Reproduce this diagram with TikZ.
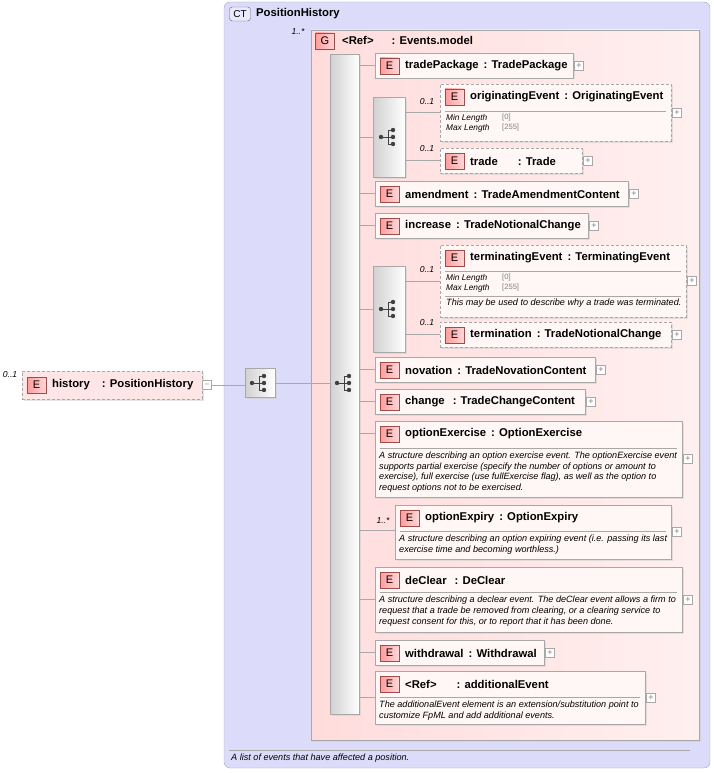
\documentclass[tikz,border=0pt]{standalone}
\usepackage{fontspec}
\setmainfont{Liberation Sans}
\usetikzlibrary{shadows}

\definecolor{ctfill}{HTML}{DCDCFA}
\definecolor{gfill}{HTML}{FFDCDC}
\definecolor{efill}{HTML}{FFF6F6}
\definecolor{badge}{HTML}{FF9C9C}
\definecolor{frame}{HTML}{A8A8A8}

\tikzset{
  ebox/.style={draw=frame,fill=efill,anchor=north west,inner sep=0pt,outer sep=0pt,
               drop shadow={shadow xshift=1.5pt,shadow yshift=-1.5pt,fill=black!20}},
  solid box/.style={solid},
  dashed box/.style={dash pattern=on 3pt off 2pt},
  ebadge/.style={draw=red!45!black!70,left color=badge,right color=badge!40,minimum width=19pt,
                 minimum height=16pt,inner sep=0pt,font=\fontsize{11}{12}\selectfont},
  etitle/.style={anchor=west,inner sep=0pt,font=\fontsize{11.3}{13}\selectfont\bfseries},
  edesc/.style={anchor=north west,inner sep=0pt,align=left,font=\fontsize{9.1}{10.6}\selectfont\itshape},
  facet/.style={anchor=north west,inner sep=0pt,align=left,font=\fontsize{8.3}{10}\selectfont\itshape},
  facet value/.style={facet,font=\fontsize{7.6}{10}\selectfont,text=gray},
  plusbox/.style={draw=frame,fill=white,minimum size=9pt,inner sep=0pt,
                  font=\fontsize{9}{9}\selectfont\color{gray}},
  card/.style={font=\fontsize{8.6}{9}\selectfont\itshape},
  conn/.style={draw=frame,thin},
  icon box/.style={draw=frame,anchor=north west,inner sep=0pt,left color=black!18,right color=white,
                   drop shadow={shadow xshift=1.5pt,shadow yshift=-1.5pt,fill=black!20}}
}

% element box: id, x, y, width, height, border style, title
\newcommand{\elem}[7]{%
  \node[ebox,#6,minimum width=#4pt,minimum height=#5pt] (#1) at (#2,#3) {};
  \node[ebadge] at (#2+14.5,#3+13) {E};
  \node[etitle] at (#2+30,#3+13) {#7};
  \node[plusbox] at (#2+#4+6,#3+#5/2) {+};
}
% separator line and text under a title
\newcommand{\note}[4]{%
  \draw[frame] (#1+5,#2) -- (#3-5,#2);
  \node[edesc] at (#1+4,#2+4) {#4};
}
% choice icon
\newcommand{\choiceicon}[2]{%
  \fill[black!75] (#1-7,#2) circle (2.2pt) (#1+5,#2-7) circle (2.2pt)
                  (#1+5,#2) circle (2.2pt) (#1+5,#2+7) circle (2.2pt);
  \draw[black!75,thick] (#1-7,#2) -- (#1,#2) (#1,#2-7) -- (#1,#2+7)
                  (#1,#2-7) -- (#1+5,#2-7) (#1,#2) -- (#1+5,#2) (#1,#2+7) -- (#1+5,#2+7);
}

\begin{document}
\begin{tikzpicture}[x=1pt,y=-1pt]
  \useasboundingbox (0,0) rectangle (714,773);

  % complex type
  \draw[frame,fill=ctfill,rounded corners=6pt] (224,2) rectangle (710,768);
  \node[draw=black!60,fill=ctfill!60,rounded corners=3pt,minimum width=21pt,minimum height=14pt,
        inner sep=0pt,font=\fontsize{10}{11}\selectfont] (ct) at (240,14) {CT};
  \node[etitle] at (256,14) {PositionHistory};
  \draw[frame] (229,750) -- (690,750);
  \node[edesc,anchor=west] at (231,758) {A list of events that have affected a position.};

  % group
  \draw[frame,left color=gfill,right color=gfill!45,
        drop shadow={shadow xshift=1.5pt,shadow yshift=-1.5pt,fill=black!20}] (311,30) rectangle (699,740);
  \node[ebadge] at (325,41) {G};
  \node[etitle] at (342,40) {<Ref>\hspace{18pt}: Events.model};
  \node[card] at (298,32) {1..*};

  % history element
  \node[ebox,dashed box,fill=gfill!70,minimum width=180pt,minimum height=28pt] (history) at (22,371) {};
  \node[ebadge] at (36.5,385) {E};
  \node[etitle] at (52,385) {history\hspace{12pt}: PositionHistory};
  \node[card] at (10,375) {0..1};
  \node[draw=frame,fill=white,minimum size=9pt,inner sep=0pt,font=\fontsize{8}{8}\selectfont\color{gray}]
       (minus) at (207,385) {--};

  % sequence and main choice
  \node[icon box,minimum width=30pt,minimum height=29pt] (seq) at (245,368) {};
  \choiceicon{259}{383}
  \node[icon box,minimum width=29pt,minimum height=660pt] (bar) at (330,54) {};
  \choiceicon{344}{383}
  \draw[conn] (minus.east) -- (seq.west |- minus.east);
  \draw[conn] (seq.east) -- (bar.west |- seq.east);

  % elements
  \elem{tp}{375}{53}{198}{25}{solid box}{tradePackage\ \,: TradePackage}

  \node[icon box,minimum width=32pt,minimum height=80pt] (ch1) at (373,97) {};
  \choiceicon{388}{137}
  \elem{oe}{440}{84}{231}{57}{dashed box}{originatingEvent\ \,: OriginatingEvent}
  \draw[frame] (445,111) -- (666,111);
  \node[facet] at (446,114) {Min Length\\Max Length};
  \node[facet value] at (502,114) {[0]\\{[255]}};
  \elem{tr}{440}{148}{142}{25}{dashed box}{trade\hspace{20pt}: Trade}
  \node[card] at (427,102) {0..1};
  \node[card] at (427,149) {0..1};

  \elem{am}{375}{181}{253}{25}{solid box}{amendment\ \,: TradeAmendmentContent}
  \elem{inc}{375}{213}{213}{25}{solid box}{increase\ \,: TradeNotionalChange}

  \node[icon box,minimum width=32pt,minimum height=86pt] (ch2) at (373,266) {};
  \choiceicon{388}{309}
  \elem{te}{440}{245}{246}{72}{dashed box}{terminatingEvent\ \,: TerminatingEvent}
  \draw[frame] (445,271) -- (681,271);
  \node[facet] at (446,274) {Min Length\\Max Length};
  \node[facet value] at (502,274) {[0]\\{[255]}};
  \draw[frame] (445,296) -- (681,296);
  \node[edesc] at (446,299) {This may be used to describe why a trade was terminated.};
  \elem{tn}{440}{322}{231}{25}{dashed box}{termination\ \,: TradeNotionalChange}
  \node[card] at (427,270) {0..1};
  \node[card] at (427,323) {0..1};

  \elem{nov}{375}{357}{220}{25}{solid box}{novation\ \,: TradeNovationContent}
  \elem{chg}{375}{389}{210}{25}{solid box}{change\hspace{8pt}: TradeChangeContent}
  \elem{oex}{375}{421}{307}{76}{solid box}{optionExercise\ \,: OptionExercise}
  \note{375}{448}{682}{A structure describing an option exercise event. The optionExercise event\\
    supports partial exercise (specify the number of options or amount to\\
    exercise), full exercise (use fullExercise flag), as well as the option to\\
    request options not to be exercised.}
  \elem{oxp}{395}{505}{276}{54}{solid box}{optionExpiry\ \,: OptionExpiry}
  \note{395}{531}{671}{A structure describing an option expiring event (i.e. passing its last\\
    exercise time and becoming worthless.)}
  \node[card] at (383,521) {1..*};
  \elem{dcl}{375}{567}{307}{65}{solid box}{deClear\hspace{8pt}: DeClear}
  \note{375}{592}{682}{A structure describing a declear event. The deClear event allows a firm to\\
    request that a trade be removed from clearing, or a clearing service to\\
    request consent for this, or to report that it has been done.}
  \elem{wd}{375}{640}{169}{25}{solid box}{withdrawal\ \,: Withdrawal}
  \elem{ae}{375}{671}{270}{53}{solid box}{<Ref>\hspace{20pt}: additionalEvent}
  \note{375}{697}{645}{The additionalEvent element is an extension/substitution point to\\
    customize FpML and add additional events.}

  % connectors
  \foreach \n in {tp,ch1,am,inc,ch2,nov,chg,wd}
    \draw[conn] (bar.east |- \n.west) -- (\n.west);
  \draw[conn] (bar.east |- 0,433) -- (oex.west |- 0,433);
  \draw[conn] (bar.east |- 0,530) -- (oxp.west |- 0,530);
  \draw[conn] (bar.east |- 0,599) -- (dcl.west |- 0,599);
  \draw[conn] (bar.east |- 0,697) -- (ae.west |- 0,697);
  \foreach \n in {oe,tr}
    \draw[conn] (ch1.east |- \n.west) -- (\n.west);
  \foreach \n in {te,tn}
    \draw[conn] (ch2.east |- \n.west) -- (\n.west);
\end{tikzpicture}
\end{document}
